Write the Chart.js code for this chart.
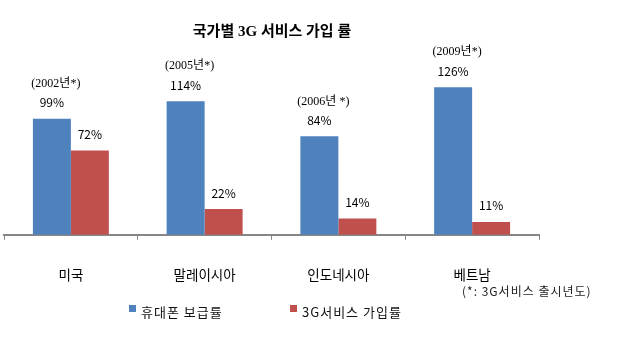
<!DOCTYPE html>
<html>
<head>
<meta charset="utf-8">
<script src="https://cdn.jsdelivr.net/npm/chart.js@4.4.1/dist/chart.umd.min.js"></script>
<style>
  html, body { margin: 0; padding: 0; background: #fff; }
  #wrap { width: 618px; height: 338px; }
</style>
</head>
<body>
<div id="wrap"><canvas id="chart3G" width="618" height="338"></canvas></div>
<script>
var paises = ['미국', '말레이시아', '인도네시아', '베트남']
var boGeupRyul = [99, 114, 84, 126]   // 휴대폰 보급률
var gaIpRyul = [72, 22, 14, 11]       // 3G서비스 가입률
var chulsiNyeon = ['(2002년*)', '(2005년*)', '(2006년 *)', '(2009년*)']

var titulo = '국가별 3G 서비스 가입 률'
var nota = '(*: 3G서비스 출시년도)'

var sans = '"Noto Sans CJK KR", "Noto Sans", sans-serif'
var serif = '"Liberation Serif", "Noto Sans CJK KR", serif'

// titulo, etiquetas y leyenda dibujadas a mano
var textos = {
    id: 'textos',
    afterDraw: function(chart) {
        let c = chart.ctx
        c.save()
        c.textAlign = 'center'
        c.textBaseline = 'middle'

        c.fillStyle = '#000'
        c.font = 'bold 15px ' + serif
        c.fillText(titulo, 272, 32)

        // valores encima de cada barra
        chart.data.datasets.forEach(function(ds, i) {
            let meta = chart.getDatasetMeta(i)
            meta.data.forEach(function(bar, j) {
                c.font = '12px ' + sans
                c.fillStyle = '#000'
                c.fillText(ds.data[j] + '%', bar.x, bar.y - 16)
                if (i == 0) {
                    c.font = '12px ' + serif
                    c.fillText(chulsiNyeon[j], bar.x + 4, bar.y - 35)
                }
            })
        })

        c.letterSpacing = '1px'
        c.font = '12px ' + sans
        c.textAlign = 'left'
        c.fillStyle = '#222'
        c.fillText(nota, 462, 291)

        // leyenda
        let legX = [129, 290]
        chart.data.datasets.forEach(function(ds, i) {
            c.fillStyle = ds.backgroundColor
            c.fillRect(legX[i], 305, 7, 7)
            c.fillStyle = '#111'
            c.font = '13px ' + sans
            c.fillText(ds.label, legX[i] + 12, 312)
        })
        c.restore()
    }
}

var ctx = document.getElementById('chart3G')
var chart3G = new Chart(ctx, {
    type: 'bar',
    data: {
        labels: paises,
        datasets: [{
            label: '휴대폰 보급률',
            data: boGeupRyul,
            backgroundColor: '#4F81BD'
        }, {
            label: '3G서비스 가입률',
            data: gaIpRyul,
            backgroundColor: '#C0504D'
        }]
    },
    options: {
        responsive: false,
        animation: false,
        layout: {
            padding: { left: 4, right: 79, top: 59, bottom: 28 }
        },
        datasets: {
            bar: { categoryPercentage: 0.568, barPercentage: 1.0 }
        },
        plugins: {
            legend: { display: false },
            title: { display: false },
            tooltip: { enabled: false }
        },
        scales: {
            y: { display: false, min: 0, max: 150 },
            x: {
                grid: {
                    offset: true,
                    drawOnChartArea: false,
                    tickLength: 5,
                    color: '#868686',
                    lineWidth: 1
                },
                border: { color: '#868686', width: 2 },
                ticks: {
                    padding: 27,
                    color: '#000',
                    font: { size: 13.5, family: sans }
                }
            }
        }
    },
    plugins: [textos]
})
</script>
</body>
</html>
